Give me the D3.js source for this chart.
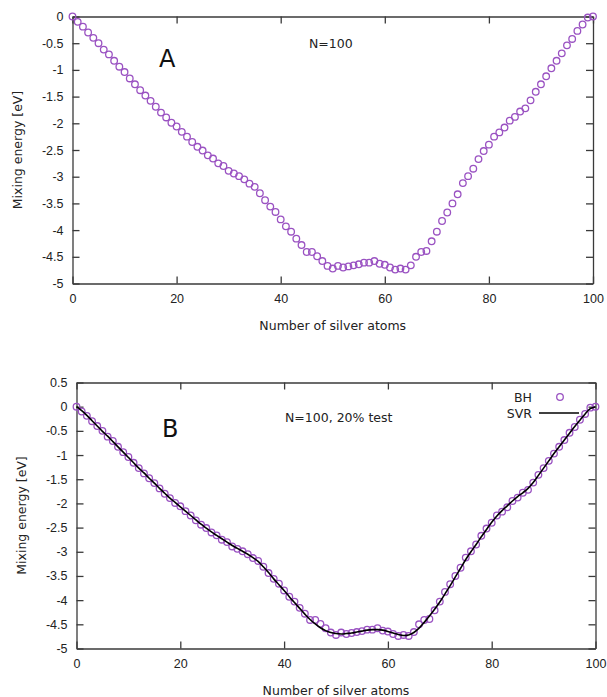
<!DOCTYPE html>
<html>
<head>
<meta charset="utf-8">
<title>Mixing energy</title>
<script src="https://cdn.jsdelivr.net/npm/d3@7/dist/d3.min.js"></script>
<style>
  html, body { margin: 0; padding: 0; background: #fff; }
  svg { display: block; font-family: "DejaVu Sans", sans-serif; }
  .frame line, .frame path { stroke: #3a3a3a; stroke-width: 1.3; }
  .frame text { fill: #222; font-size: 12.5px; }
</style>
</head>
<body>
<svg id="chart" width="607" height="697"></svg>
<script>
  'use strict';

  // number of silver atoms (x)
  var atoms = [0, 1, 2, 3, 4, 5, 6, 7, 8, 9, 10, 11, 12, 13, 14, 15, 16, 17, 18, 19,
    20, 21, 22, 23, 24, 25, 26, 27, 28, 29, 30, 31, 32, 33, 34, 35, 36, 37, 38, 39,
    40, 41, 42, 43, 44, 45, 46, 47, 48, 49, 50, 51, 52, 53, 54, 55, 56, 57, 58, 59,
    60, 61, 62, 63, 64, 65, 66, 67, 68, 69, 70, 71, 72, 73, 74, 75, 76, 77, 78, 79,
    80, 81, 82, 83, 84, 85, 86, 87, 88, 89, 90, 91, 92, 93, 94, 95, 96, 97, 98, 99, 100];

  // basin hopping mixing energies [eV]
  var bhEnergy = [0, -0.10, -0.19, -0.30, -0.40, -0.50, -0.62, -0.71, -0.83, -0.94,
    -1.04, -1.16, -1.27, -1.38, -1.48, -1.58, -1.69, -1.80, -1.89, -1.99,
    -2.06, -2.16, -2.25, -2.35, -2.44, -2.51, -2.60, -2.66, -2.75, -2.80,
    -2.89, -2.94, -2.99, -3.05, -3.13, -3.19, -3.31, -3.44, -3.56, -3.66,
    -3.80, -3.93, -4.03, -4.16, -4.28, -4.41, -4.41, -4.49, -4.58, -4.67,
    -4.72, -4.67, -4.70, -4.68, -4.66, -4.64, -4.61, -4.61, -4.58, -4.63,
    -4.65, -4.70, -4.74, -4.72, -4.74, -4.66, -4.50, -4.41, -4.39, -4.21,
    -4.03, -3.83, -3.67, -3.50, -3.33, -3.12, -2.99, -2.85, -2.67, -2.52,
    -2.40, -2.25, -2.17, -2.08, -1.95, -1.88, -1.78, -1.72, -1.57, -1.41,
    -1.27, -1.12, -0.97, -0.83, -0.69, -0.54, -0.42, -0.27, -0.15, -0.02, 0];

  // SVR fit [eV]
  var svrEnergy = [0, -0.08, -0.18, -0.29, -0.40, -0.51, -0.61, -0.72, -0.83, -0.94,
    -1.05, -1.16, -1.27, -1.37, -1.48, -1.58, -1.69, -1.79, -1.89, -1.98,
    -2.07, -2.16, -2.25, -2.34, -2.43, -2.51, -2.59, -2.66, -2.73, -2.80,
    -2.87, -2.93, -2.99, -3.05, -3.12, -3.20, -3.31, -3.43, -3.56, -3.68,
    -3.80, -3.93, -4.05, -4.17, -4.29, -4.40, -4.49, -4.57, -4.63, -4.67,
    -4.69, -4.70, -4.69, -4.68, -4.66, -4.64, -4.62, -4.61, -4.61, -4.62,
    -4.65, -4.68, -4.71, -4.73, -4.72, -4.67, -4.58, -4.46, -4.33, -4.19,
    -4.04, -3.87, -3.70, -3.52, -3.34, -3.16, -3.00, -2.85, -2.69, -2.54,
    -2.39, -2.26, -2.15, -2.05, -1.95, -1.86, -1.78, -1.69, -1.57, -1.42,
    -1.27, -1.12, -0.97, -0.83, -0.69, -0.55, -0.41, -0.28, -0.15, -0.04, 0];

  var xTicks = [0, 20, 40, 60, 80, 100];
  var yTicksA = [0, -0.5, -1, -1.5, -2, -2.5, -3, -3.5, -4, -4.5, -5];
  var yTicksB = [0.5, 0, -0.5, -1, -1.5, -2, -2.5, -3, -3.5, -4, -4.5, -5];

  var purple = '#9a52c2';
  var svg = d3.select('#chart');

  // Draw one gnuplot-like panel, returns its scales and group
  function drawPanel(opts) {
    var x = d3.scaleLinear().domain([0, 100]).range([opts.left, opts.right]),
        y = d3.scaleLinear().domain(opts.yDomain).range([opts.bottom, opts.top]),
        g = svg.append('g').attr('class', 'frame');

    var fmt = function (d) { return String(d); };

    g.append('g')
      .attr('transform', 'translate(0,' + opts.bottom + ')')
      .call(d3.axisBottom(x).tickValues(xTicks).tickFormat(fmt)
        .tickSizeInner(-7).tickSizeOuter(0).tickPadding(11));
    g.append('g')
      .attr('transform', 'translate(0,' + opts.top + ')')
      .call(d3.axisTop(x).tickValues(xTicks).tickFormat('')
        .tickSizeInner(-7).tickSizeOuter(0));
    g.append('g')
      .attr('transform', 'translate(' + opts.left + ',0)')
      .call(d3.axisLeft(y).tickValues(opts.yTicks).tickFormat(fmt)
        .tickSizeInner(-7).tickSizeOuter(0).tickPadding(9));
    g.append('g')
      .attr('transform', 'translate(' + opts.right + ',0)')
      .call(d3.axisRight(y).tickValues(opts.yTicks).tickFormat('')
        .tickSizeInner(-7).tickSizeOuter(0));

    g.selectAll('.domain').attr('fill', 'none');
    g.selectAll('.tick text').attr('fill', '#222').style('font-size', '12.5px');

    // axis titles
    svg.append('text')
      .attr('x', (opts.left + opts.right) / 2)
      .attr('y', opts.xTitleY)
      .attr('text-anchor', 'middle')
      .style('font-size', '12.5px')
      .attr('fill', '#222')
      .text('Number of silver atoms');
    svg.append('text')
      .attr('transform', 'translate(' + opts.yTitleX + ',' + ((opts.top + opts.bottom) / 2) + ') rotate(-90)')
      .attr('text-anchor', 'middle')
      .style('font-size', '12.5px')
      .attr('fill', '#222')
      .text('Mixing energy [eV]');

    return { x: x, y: y };
  }

  function drawPoints(p) {
    svg.append('g').selectAll('circle')
      .data(atoms)
      .enter().append('circle')
      .attr('cx', function (d) { return p.x(d); })
      .attr('cy', function (d, i) { return p.y(bhEnergy[i]); })
      .attr('r', 3.3)
      .attr('fill', 'none')
      .attr('stroke', purple)
      .attr('stroke-width', 1.3);
  }

  ////////////////////////////////////////////////////////////////
  // Panel A
  ////////////////////////////////////////////////////////////////

  var pa = drawPanel({
    left: 72.5, right: 593, top: 16.5, bottom: 283.5,
    yDomain: [-5, 0], yTicks: yTicksA,
    xTitleY: 330, yTitleX: 22
  });
  drawPoints(pa);

  svg.append('text').attr('x', 159).attr('y', 67)
    .style('font-size', '24px').attr('fill', '#111').text('A');
  svg.append('text').attr('x', 309).attr('y', 48)
    .style('font-size', '12.5px').attr('fill', '#222').text('N=100');

  ////////////////////////////////////////////////////////////////
  // Panel B
  ////////////////////////////////////////////////////////////////

  var pb = drawPanel({
    left: 76.5, right: 595.5, top: 382.5, bottom: 648.5,
    yDomain: [-5, 0.5], yTicks: yTicksB,
    xTitleY: 695, yTitleX: 26
  });
  drawPoints(pb);

  var svrLine = d3.line()
    .x(function (d) { return pb.x(d); })
    .y(function (d, i) { return pb.y(svrEnergy[i]); })
    .curve(d3.curveCatmullRom);

  svg.append('path')
    .datum(atoms)
    .attr('d', svrLine)
    .attr('fill', 'none')
    .attr('stroke', '#000')
    .attr('stroke-width', 1.6);

  svg.append('text').attr('x', 162).attr('y', 437)
    .style('font-size', '24px').attr('fill', '#111').text('B');
  svg.append('text').attr('x', 285).attr('y', 422)
    .style('font-size', '12.5px').attr('fill', '#222').text('N=100, 20% test');

  // legend
  svg.append('text').attr('x', 532).attr('y', 402).attr('text-anchor', 'end')
    .style('font-size', '12.5px').attr('fill', '#222').text('BH');
  svg.append('circle').attr('cx', 560).attr('cy', 397).attr('r', 3.3)
    .attr('fill', 'none').attr('stroke', purple).attr('stroke-width', 1.3);
  svg.append('text').attr('x', 532).attr('y', 418).attr('text-anchor', 'end')
    .style('font-size', '12.5px').attr('fill', '#222').text('SVR');
  svg.append('line').attr('x1', 539).attr('x2', 579).attr('y1', 413).attr('y2', 413)
    .attr('stroke', '#000').attr('stroke-width', 1.6);
</script>
</body>
</html>
